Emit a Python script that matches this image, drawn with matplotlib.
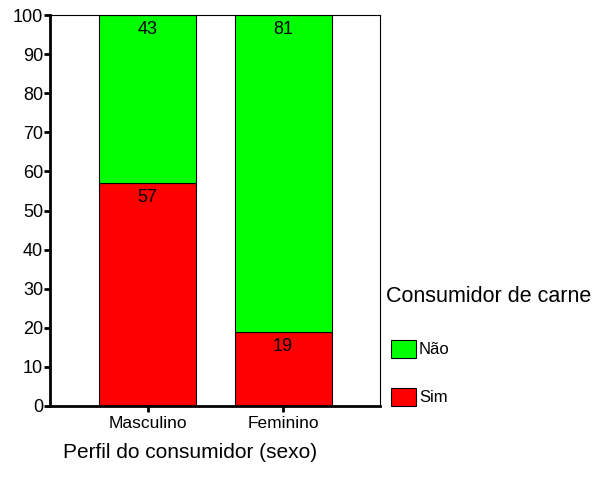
import matplotlib
matplotlib.use("Agg")
import matplotlib.pyplot as plt
from matplotlib.patches import Rectangle

# Percentages of meat consumers by consumer sex
categories = ["Masculino", "Feminino"]
sim = [57, 19]
nao = [43, 81]
series_labels = ["Não", "Sim"]
legend_title = "Consumidor de carne"
x_label = "Perfil do consumidor (sexo)"
y_ticks = [0, 10, 20, 30, 40, 50, 60, 70, 80, 90, 100]

GREEN = "#00FF00"
RED = "#FF0000"

plt.rcParams["font.family"] = ["Liberation Sans", "DejaVu Sans"]

fig = plt.figure(figsize=(6.01, 4.88), dpi=100)
ax = fig.add_axes([50 / 601, 1 - 406 / 488, 330 / 601, 391 / 488])

pos = list(range(len(categories)))
width = 0.716
ax.bar(pos, sim, width=width, color=RED, edgecolor="black", linewidth=0.8)
ax.bar(pos, nao, width=width, bottom=sim, color=GREEN, edgecolor="black", linewidth=0.8)

for x, s, n in zip(pos, sim, nao):
    ax.annotate(f"{s}", (x, s), xytext=(0, -4.5), textcoords="offset points",
                ha="center", va="top", fontsize=13)
    ax.annotate(f"{n}", (x, s + n), xytext=(0, -4.5), textcoords="offset points",
                ha="center", va="top", fontsize=13)

ax.set_xlim(-0.72, 1.716)
ax.set_ylim(0, 100)
ax.set_yticks(y_ticks)
ax.set_xticks(pos)
ax.set_xticklabels(categories, fontsize=12.5)
ax.tick_params(axis="y", labelsize=13, length=4, width=2, pad=1)
ax.tick_params(axis="x", length=4, width=2, pad=3)

for side in ("left", "bottom"):
    ax.spines[side].set_linewidth(2)
for side in ("top", "right"):
    ax.spines[side].set_linewidth(0.8)

fig.text(63 / 601, 1 - 452 / 488, x_label, fontsize=15, ha="left", va="center")

# Legend drawn beside the axes
fig.text(386 / 601, 1 - 297 / 488, legend_title, fontsize=15.5, ha="left", va="center")
legend_colors = [GREEN, RED]
legend_y = [349, 397]
for lab, col, yc in zip(series_labels, legend_colors, legend_y):
    fig.patches.append(Rectangle((391 / 601, 1 - (yc + 9) / 488), 25 / 601, 18 / 488,
                                 transform=fig.transFigure, facecolor=col,
                                 edgecolor="black", linewidth=0.8))
    fig.text(419 / 601, 1 - yc / 488, lab, fontsize=12, ha="left", va="center")

fig.savefig("out.png", dpi=100)
